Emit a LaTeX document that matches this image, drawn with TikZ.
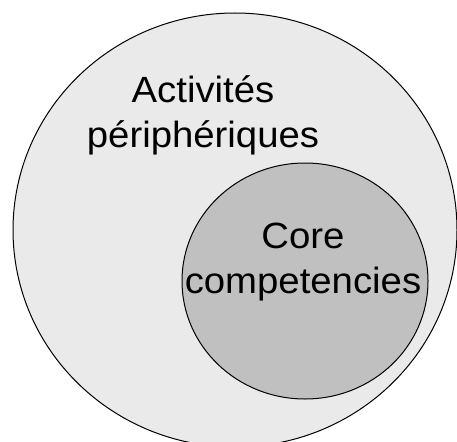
\documentclass[tikz,border=0pt]{standalone}
\usepackage{fontspec}
\setmainfont{Liberation Sans}
\newfontfamily\labelfont[FakeStretch=1.05]{Liberation Sans}
\usetikzlibrary{shapes.geometric}

\definecolor{outergray}{HTML}{EAEAEA}
\definecolor{innergray}{HTML}{C0C0C0}

\begin{document}
\begin{tikzpicture}[x=1pt,y=-1pt,
  zone/.style={draw=black, line width=1pt, ellipse, inner sep=0pt},
  label/.style={font=\labelfont\fontsize{36.5}{45}\selectfont, align=center, inner sep=0pt}]

% Frame
\useasboundingbox (0,0) rectangle (457,441);
\clip (0,0) rectangle (457,441);

% Zones
\node[zone, fill=outergray, minimum width=444pt, minimum height=434pt] (outer) at (235,230) {};
\node[zone, fill=innergray, minimum width=246pt, minimum height=236pt] (inner) at (305,281) {};

% Labels
\node[label, anchor=base] (periph) at (203,147) {Activités\\périphériques};
\node[label, anchor=base] (core) at (303,293) {Core\\competencies};

\end{tikzpicture}
\end{document}
